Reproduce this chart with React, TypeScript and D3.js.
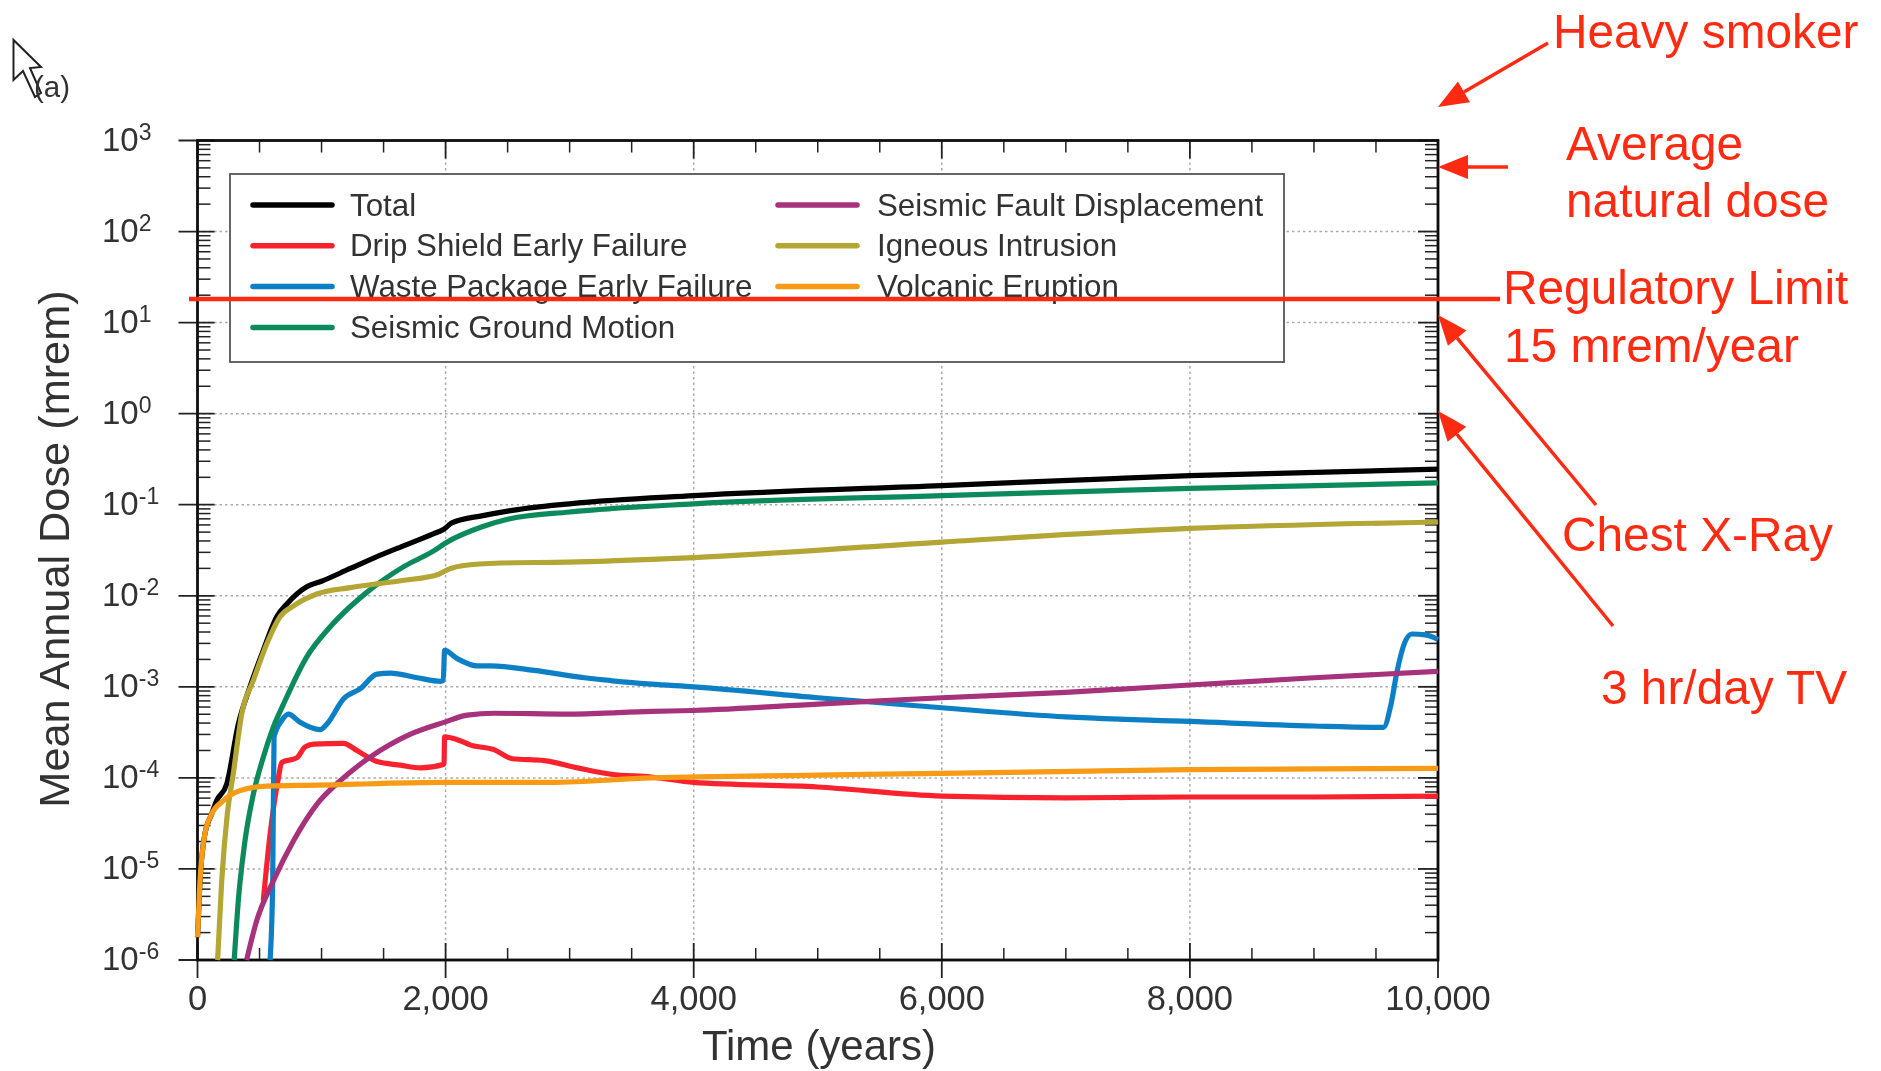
import React from 'react';
import * as d3 from 'd3';

// every series is [year, log10 of dose in mrem]
const total = [[0, -5.75], [19, -5.16], [59, -4.62], [113, -4.4], [154, -4.25], [235, -4.07], [329, -3.41], [423, -3.0], [530, -2.6], [639, -2.23], [720, -2.09], [881, -1.9], [1000, -1.84], [1232, -1.7], [1500, -1.54], [1609, -1.48], [1900, -1.32], [1985, -1.27], [2050, -1.2], [2300, -1.12], [2500, -1.07], [3000, -0.99], [4000, -0.9], [6000, -0.79], [8000, -0.68], [10000, -0.61]];
const dripShield = [[530, -5.35], [585, -4.62], [652, -4.0], [679, -3.83], [800, -3.78], [868, -3.66], [935, -3.63], [1178, -3.62], [1286, -3.7], [1447, -3.82], [1636, -3.86], [1798, -3.89], [1987, -3.85], [1992, -3.55], [2094, -3.58], [2202, -3.64], [2391, -3.69], [2539, -3.79], [2795, -3.81], [3065, -3.89], [3334, -3.96], [3658, -3.99], [4000, -4.05], [5000, -4.1], [6000, -4.2], [7000, -4.22], [8000, -4.21], [9000, -4.21], [10000, -4.2]];
const wastePackage = [[585, -6], [606, -5.16], [617, -3.55], [679, -3.37], [733, -3.3], [827, -3.39], [989, -3.47], [1043, -3.41], [1178, -3.13], [1313, -3.02], [1447, -2.86], [1555, -2.85], [1771, -2.9], [1960, -2.94], [1981, -2.93], [1992, -2.6], [2094, -2.69], [2256, -2.77], [2364, -2.77], [2714, -2.82], [3119, -2.9], [3658, -2.97], [4000, -3.0], [5000, -3.12], [6000, -3.23], [7000, -3.33], [8000, -3.38], [9000, -3.43], [9560, -3.445], [9620, -3.2], [9670, -2.83], [9730, -2.52], [9790, -2.42], [9900, -2.43], [10000, -2.48]];
const groundMotion = [[296, -6], [329, -5.35], [383, -4.69], [450, -4.18], [531, -3.77], [612, -3.44], [693, -3.19], [881, -2.67], [1070, -2.34], [1367, -1.96], [1663, -1.68], [1900, -1.51], [2000, -1.42], [2300, -1.24], [2500, -1.16], [3000, -1.08], [4000, -0.99], [6000, -0.9], [8000, -0.82], [10000, -0.76]];
const faultDisplacement = [[396, -6], [477, -5.57], [612, -5.13], [774, -4.69], [962, -4.29], [1151, -4.03], [1394, -3.77], [1717, -3.52], [1987, -3.39], [2175, -3.31], [2391, -3.29], [2984, -3.3], [3658, -3.27], [4000, -3.26], [5000, -3.19], [6000, -3.12], [7000, -3.06], [8000, -2.98], [9000, -2.9], [10000, -2.83]];
const igneous = [[162, -6], [194, -5.16], [240, -4.4], [288, -3.96], [356, -3.3], [450, -2.93], [558, -2.53], [666, -2.23], [774, -2.11], [962, -1.98], [1232, -1.91], [1663, -1.83], [1933, -1.77], [2040, -1.7], [2135, -1.67], [2445, -1.64], [2984, -1.63], [3658, -1.6], [4000, -1.58], [6000, -1.41], [8000, -1.26], [10000, -1.19]];
const volcanic = [[0, -5.75], [19, -5.16], [59, -4.62], [113, -4.4], [208, -4.25], [342, -4.14], [558, -4.09], [962, -4.08], [2000, -4.05], [2849, -4.05], [3658, -4.0], [5000, -3.97], [6000, -3.95], [8000, -3.91], [10000, -3.895]];

const seriesNames = ['Total', 'Drip Shield Early Failure', 'Waste Package Early Failure', 'Seismic Ground Motion', 'Seismic Fault Displacement', 'Igneous Intrusion', 'Volcanic Eruption'];
const seriesValues = [total, dripShield, wastePackage, groundMotion, faultDisplacement, igneous, volcanic];
const seriesColors = ['#000000', '#f8242e', '#0b7fc4', '#0a8a5c', '#a6307c', '#b3a635', '#f79a13'];

const xTicks = [0, 2000, 4000, 6000, 8000, 10000];
const xMinorTicks = d3.range(500, 10000, 500).filter(d => d % 2000 !== 0);
const decades = [3, 2, 1, 0, -1, -2, -3, -4, -5, -6];
const minorFactors = [2, 3, 4, 5, 6, 7, 8, 9];
const regulatoryLevel = 18.2;

const RED = '#ff2a12';
const INK = '#333';
const SANS = '"Liberation Sans", Arial, sans-serif';

const x = d3.scaleLinear().domain([0, 10000]).range([197.5, 1438]);
const y = d3.scaleLog().domain([1e-6, 1e3]).range([960, 140.5]);

const line = d3.line<number[]>()
  .x(d => x(d[0]))
  .y(d => y(Math.pow(10, d[1])))
  .curve(d3.curveMonotoneX);

// straight shaft + filled triangular head
const Arrow = ({ x1, y1, x2, y2 }: { x1: number; y1: number; x2: number; y2: number }) => {
  const a = Math.atan2(y2 - y1, x2 - x1);
  const len = 30;
  const half = 12;
  const bx = x2 - len * Math.cos(a);
  const by = y2 - len * Math.sin(a);
  const nx = -Math.sin(a) * half;
  const ny = Math.cos(a) * half;
  return (
    <g>
      <line x1={x1} y1={y1} x2={bx} y2={by} stroke={RED} strokeWidth={3.5} />
      <polygon points={`${x2},${y2} ${bx + nx},${by + ny} ${bx - nx},${by - ny}`} fill={RED} />
    </g>
  );
};

const App = () => {
  const minorY = decades.slice(1).flatMap(e => minorFactors.map(f => f * Math.pow(10, e)));
  const [x0, x1] = x.range();
  const [yb, yt] = y.range();

  return (
    <svg width={1881} height={1071} style={{ position: 'absolute', left: 0, top: 0, background: '#fff' }} fontFamily={SANS}>
      <defs>
        <filter id="soft" x="-5%" y="-5%" width="110%" height="110%">
          <feGaussianBlur stdDeviation="0.7" />
        </filter>
      </defs>

      <g filter="url(#soft)">
        {/* grid */}
        {decades.slice(1, -1).map(e => (
          <line key={e} x1={x0} x2={x1} y1={y(Math.pow(10, e))} y2={y(Math.pow(10, e))} stroke="#aaa" strokeWidth={1.5} strokeDasharray="2.5 3" />
        ))}
        {xTicks.slice(1, -1).map(t => (
          <line key={t} x1={x(t)} x2={x(t)} y1={yt} y2={yb} stroke="#aaa" strokeWidth={1.5} strokeDasharray="2.5 3" />
        ))}

        {/* ticks */}
        {minorY.map((v, i) => (
          <g key={i} stroke="#222" strokeWidth={1.5}>
            <line x1={x0} x2={x0 + 13} y1={y(v)} y2={y(v)} />
            <line x1={x1 - 13} x2={x1} y1={y(v)} y2={y(v)} />
          </g>
        ))}
        {decades.map(e => (
          <g key={e} stroke="#222" strokeWidth={1.8}>
            <line x1={x0 - 19} x2={x0 + 17} y1={y(Math.pow(10, e))} y2={y(Math.pow(10, e))} />
            <line x1={x1 - 20} x2={x1} y1={y(Math.pow(10, e))} y2={y(Math.pow(10, e))} />
          </g>
        ))}
        {xMinorTicks.map(t => (
          <g key={t} stroke="#222" strokeWidth={1.5}>
            <line x1={x(t)} x2={x(t)} y1={yb - 12} y2={yb} />
            <line x1={x(t)} x2={x(t)} y1={yt} y2={yt + 12} />
          </g>
        ))}
        {xTicks.map(t => (
          <g key={t} stroke="#222" strokeWidth={1.8}>
            <line x1={x(t)} x2={x(t)} y1={yb - 17} y2={yb + 18} />
            <line x1={x(t)} x2={x(t)} y1={yt} y2={yt + 18} />
          </g>
        ))}
        <rect x={x0} y={yt} width={x1 - x0} height={yb - yt} fill="none" stroke="#111" strokeWidth={2.8} />

        {/* legend */}
        <rect x={230} y={174} width={1054} height={188} fill="#fff" stroke="#555" strokeWidth={1.8} />
        {seriesNames.map((name, i) => {
          const col = i < 4 ? 0 : 1;
          const row = i < 4 ? i : i - 4;
          const ly = 205 + row * 40.8;
          const lx = col === 0 ? 253 : 778;
          return (
            <g key={name}>
              <line x1={lx} x2={lx + 79} y1={ly} y2={ly} stroke={seriesColors[i]} strokeWidth={5.5} strokeLinecap="round" />
              <text x={col === 0 ? 350 : 877} y={ly + 10.5} fontSize={31.3} fill={INK}>{name}</text>
            </g>
          );
        })}

        {/* curves */}
        {seriesValues.map((s, i) => (
          <path key={seriesNames[i]} d={line(s as number[][]) as string} fill="none" stroke={seriesColors[i]} strokeWidth={5.2} />
        ))}

        {/* tick labels */}
        {decades.map(e => (
          <text key={e} x={102} y={y(Math.pow(10, e)) + 10} fontSize={33} fill={INK}>
            10<tspan fontSize={23} dy={-11}>{e}</tspan>
          </text>
        ))}
        {xTicks.map(t => (
          <text key={t} x={x(t)} y={1010} fontSize={34.5} fill={INK} textAnchor="middle">{d3.format(',')(t)}</text>
        ))}
        <text x={819} y={1060} fontSize={42} fill={INK} textAnchor="middle">Time (years)</text>
        <text transform="translate(69,549) rotate(-90)" fontSize={43.3} fill={INK} textAnchor="middle">Mean Annual Dose (mrem)</text>

        {/* pointer and panel letter */}
        <path d="M13.5,40 L13.5,80 L23,71 L35,97 L41,93 L30,68 L41,67 Z" fill="#fff" stroke="#222" strokeWidth={2} />
        <text x={34} y={97} fontSize={29.5} fill={INK}>(a)</text>
      </g>

      {/* red annotations */}
      <line x1={189} x2={1500} y1={y(regulatoryLevel)} y2={y(regulatoryLevel)} stroke={RED} strokeWidth={4.5} />
      <Arrow x1={1548} y1={43} x2={1438} y2={107} />
      <Arrow x1={1508} y1={167} x2={1438} y2={167} />
      <Arrow x1={1596} y1={505} x2={1438} y2={315} />
      <Arrow x1={1613} y1={626} x2={1438} y2={411} />
      <g fill={RED} fontSize={47.8}>
        <text x={1553} y={48}>Heavy smoker</text>
        <text x={1566} y={160}>Average</text>
        <text x={1566} y={217}>natural dose</text>
        <text x={1503} y={304}>Regulatory Limit</text>
        <text x={1504} y={362}>15 mrem/year</text>
        <text x={1562} y={551}>Chest X-Ray</text>
        <text x={1601} y={704}>3 hr/day TV</text>
      </g>
    </svg>
  );
};

export default App;
